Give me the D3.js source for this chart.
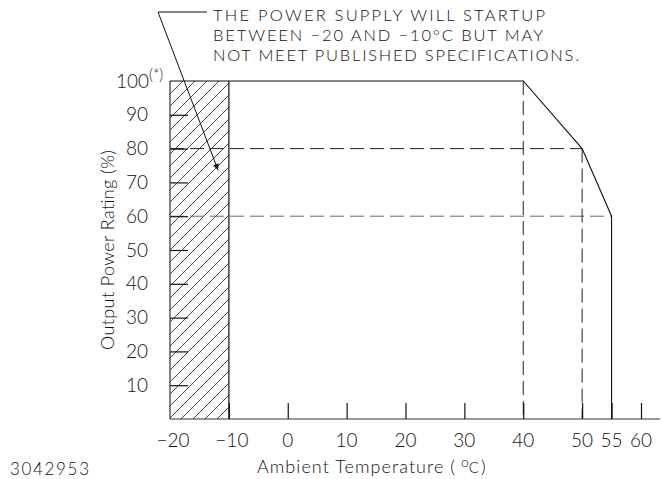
<!DOCTYPE html>
<html>
<head>
<meta charset="utf-8">
<script src="https://cdn.jsdelivr.net/npm/d3@7"></script>
<style>
  body { margin: 0; background: #fff; }
  text { font-family: Lato, "DejaVu Sans Condensed", sans-serif; font-weight: 300; fill: #111; }
</style>
</head>
<body>
<div id="chart-area"></div>
<script>
// derating curve
var temps   = [-20, 40, 50, 55, 55]
var ratings = [100, 100, 80, 60, 0]
var xTicks = [-20, -10, 0, 10, 20, 30, 40, 50, 55, 60]
var yTicks = [10, 20, 30, 40, 50, 60, 70, 80, 90]
var hatchRange = [-20, -10]
var dashH = [{t: 50, r: 80, c: "#222"}, {t: 55, r: 60, c: "#666"}]
var dashV = [{t: 40, r: 100}, {t: 50, r: 80}]
var note = ["THE POWER SUPPLY WILL STARTUP", "BETWEEN \u221220 AND \u221210\u00B0C BUT MAY", "NOT MEET PUBLISHED SPECIFICATIONS."]
var noteLen = [332, 330, 366]

var cw = 662, ch = 479

var svg = d3.select("#chart-area").append("svg")
    .attr("width", cw)
    .attr("height", ch)

var x = d3.scaleLinear().domain([-20, 60]).range([170, 641])
var y = d3.scaleLinear().domain([0, 100]).range([419, 81])

// hatch pattern
var defs = svg.append("defs")
defs.append("pattern")
    .attr("id", "hatch")
    .attr("patternUnits", "userSpaceOnUse")
    .attr("width", 12).attr("height", 12)
  .append("path")
    .attr("d", "M-3,3 L3,-3 M0,12 L12,0 M9,15 L15,9")
    .attr("stroke", "#333")
    .attr("stroke-width", 0.9)
defs.append("marker")
    .attr("id", "arrow")
    .attr("viewBox", "0 0 10 10")
    .attr("refX", 10).attr("refY", 5)
    .attr("markerWidth", 15).attr("markerHeight", 6)
    .attr("markerUnits", "userSpaceOnUse")
    .attr("orient", "auto")
  .append("path")
    .attr("d", "M0,0 L10,5 L0,10 Z")
    .attr("fill", "#111")

svg.append("rect")
    .attr("x", x(hatchRange[0]))
    .attr("y", y(100))
    .attr("width", x(hatchRange[1]) - x(hatchRange[0]))
    .attr("height", y(0) - y(100))
    .attr("fill", "url(#hatch)")

// boundary of hatch
svg.append("line")
    .attr("x1", x(hatchRange[1])).attr("x2", x(hatchRange[1]))
    .attr("y1", y(100)).attr("y2", y(0))
    .attr("stroke", "#111").attr("stroke-width", 1.2)

// dashed reference lines
svg.selectAll(".dh").data(dashH).enter().append("line")
    .attr("x1", x(-20)).attr("x2", d => x(d.t))
    .attr("y1", d => y(d.r)).attr("y2", d => y(d.r))
    .attr("stroke", d => d.c).attr("stroke-width", 1)
    .attr("stroke-dasharray", "14,6")
svg.selectAll(".dv").data(dashV).enter().append("line")
    .attr("x1", d => x(d.t)).attr("x2", d => x(d.t))
    .attr("y1", d => y(d.r)).attr("y2", y(0))
    .attr("stroke", "#222").attr("stroke-width", 1)
    .attr("stroke-dasharray", "14,6")

// axes
var bottomAxis = d3.axisBottom(x)
    .tickValues(xTicks.filter(d => d > -20))
    .tickSize(-16)
    .tickFormat(d => "")
var gx = svg.append("g")
    .attr("transform", "translate(0," + y(0) + ")")
    .call(bottomAxis)
gx.select(".domain").remove()
gx.selectAll("line").attr("stroke", "#111").attr("stroke-width", 1.2)

svg.append("line")
    .attr("x1", x(-20)).attr("x2", 660)
    .attr("y1", y(0)).attr("y2", y(0))
    .attr("stroke", "#333").attr("stroke-width", 1.2)

svg.selectAll(".xl").data(xTicks).enter().append("text")
    .attr("x", d => x(d) + (d < 0 ? 3 : 0))
    .attr("y", y(0) + 28)
    .attr("text-anchor", "middle")
    .attr("font-size", "19px")
    .text(d => d < 0 ? "\u2212" + Math.abs(d) : d)

var leftAxis = d3.axisLeft(y)
    .tickValues(yTicks)
    .tickSize(-18)
    .tickPadding(22)
var gy = svg.append("g")
    .attr("transform", "translate(" + x(-20) + ",0)")
    .call(leftAxis)
gy.select(".domain").remove()
gy.selectAll("line").attr("stroke", "#111").attr("stroke-width", 1.2)
gy.selectAll("text")
    .attr("font-size", "19px")
    .attr("font-family", null)
    .attr("fill", null)

svg.append("line")
    .attr("x1", x(-20)).attr("x2", x(-20))
    .attr("y1", y(100)).attr("y2", y(0))
    .attr("stroke", "#333").attr("stroke-width", 1.2)

var t100 = svg.append("text")
    .attr("x", 116)
    .attr("y", y(100) + 7)
    .attr("font-size", "19px")
t100.append("tspan").text("100")
t100.append("tspan").attr("dy", -8).attr("font-size", "15px").text("(*)")

// derating curve
var line = d3.line().x(d => x(d[0])).y(d => y(d[1]))
svg.append("path")
    .datum(temps.map((t, i) => [t, ratings[i]]))
    .attr("d", line)
    .attr("fill", "none")
    .attr("stroke", "#111")
    .attr("stroke-width", 1.1)

// axis titles
svg.append("text")
    .attr("transform", "translate(114," + ((y(0) + y(100)) / 2) + ") rotate(-90)")
    .attr("text-anchor", "middle")
    .attr("font-size", "18px")
    .attr("textLength", 200)
    .attr("lengthAdjust", "spacing")
    .text("Output Power Rating (%)")

var xt = svg.append("text")
    .attr("x", 257)
    .attr("y", 473)
    .attr("font-size", "18px")
xt.append("tspan").attr("textLength", 198).attr("lengthAdjust", "spacing").text("Ambient Temperature (")
xt.append("tspan").attr("dx", 5).attr("dy", -6).attr("font-size", "14px").text("o")
xt.append("tspan").attr("dy", 6).attr("font-size", "15px").text("C")
xt.append("tspan").attr("dx", 2).text(")")

svg.append("text")
    .attr("x", 10)
    .attr("y", 475)
    .attr("font-size", "17px")
    .attr("textLength", 79)
    .attr("lengthAdjust", "spacing")
    .text("3042953")

// note with leader
svg.selectAll(".note").data(note).enter().append("text")
    .attr("x", 213)
    .attr("y", (d, i) => 21 + i * 20)
    .attr("font-size", "16.5px")
    .attr("textLength", (d, i) => noteLen[i])
    .attr("lengthAdjust", "spacing")
    .text(d => d)

svg.append("path")
    .attr("d", "M207,12 L158,12 L218,170")
    .attr("fill", "none")
    .attr("stroke", "#111")
    .attr("stroke-width", 1)
    .attr("marker-end", "url(#arrow)")
</script>
</body>
</html>
